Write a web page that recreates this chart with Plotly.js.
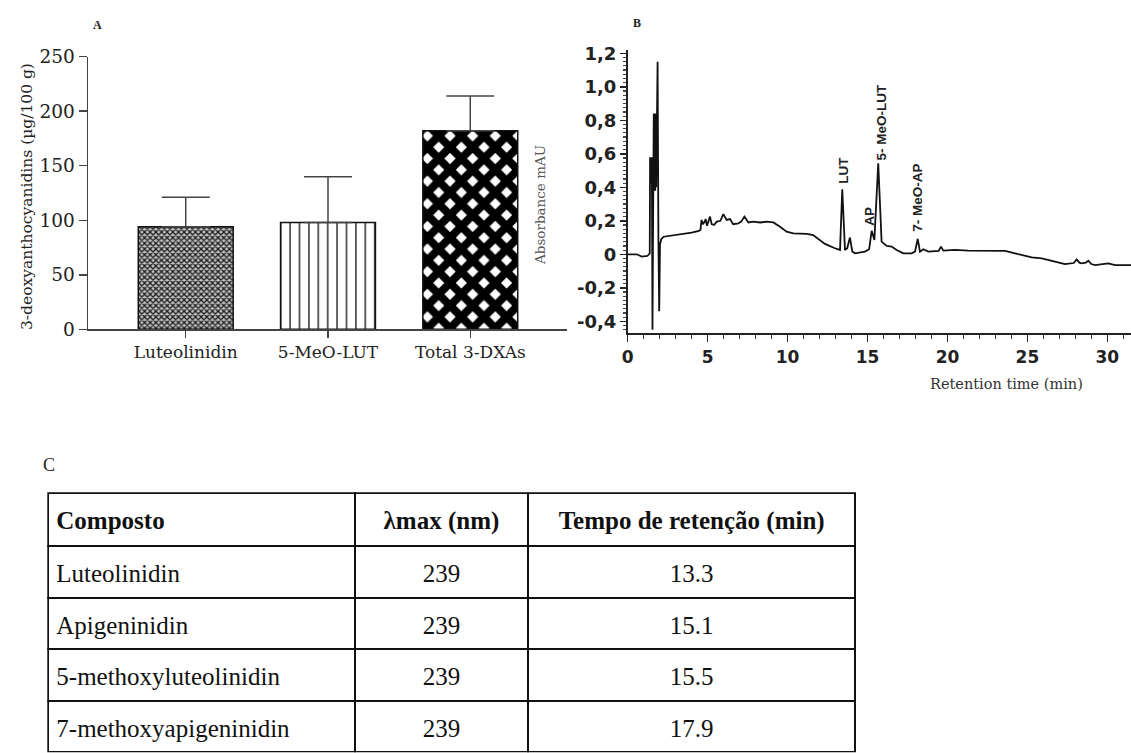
<!DOCTYPE html>
<html>
<head>
<meta charset="utf-8">
<script src="https://cdn.plot.ly/plotly-3.0.1.min.js"></script>
<style>
html, body { margin: 0; padding: 0; background: #fff; overflow: hidden; }
#chart { width: 1131px; height: 753px; }
</style>
</head>
<body>
<div id="chart"></div>
<script>
// ---------- Panel A: 3-deoxyanthocyanidin content ----------
const categories = ['Luteolinidin', '5-MeO-LUT', 'Total 3-DXAs'];
const contentMean = [94, 98, 182];
const contentSD = [27, 42, 32];

// ---------- Panel B: chromatogram ----------
const retentionTime = [0, 0.56, 0.88, 1.23, 1.38, 1.40, 1.42, 1.45, 1.48, 1.51, 1.55, 1.60, 1.63, 1.66, 1.69, 1.72, 1.75, 1.78, 1.82, 1.87, 1.92, 1.97, 2.02, 2.10, 2.25, 2.6, 3.0, 3.5, 4.0, 4.45, 4.55, 4.62, 4.70, 4.78, 4.88, 4.96, 5.04, 5.15, 5.25, 5.4, 5.57, 5.8, 5.98, 6.19, 6.4, 6.6, 6.92, 7.1, 7.3, 7.55, 7.86, 8.28, 8.69, 9.11, 9.53, 9.94, 10.36, 11.2, 11.6, 12.03, 12.34, 12.96, 13.28, 13.42, 13.59, 13.73, 13.9, 14.05, 14.22, 14.84, 15.10, 15.26, 15.43, 15.67, 15.88, 16.2, 16.51, 16.82, 17.24, 17.76, 17.97, 18.14, 18.28, 18.49, 18.8, 19.45, 19.6, 19.74, 20.47, 21.3, 22.14, 23.6, 24.22, 25.27, 25.9, 26.72, 27.35, 27.9, 28.08, 28.25, 28.39, 28.65, 28.81, 29.0, 29.23, 30.06, 30.48, 31.47, 32];
const absorbance = [0, 0, -0.014, -0.01, 0.006, 0.58, 0.42, 0.58, 0.42, 0.58, -0.45, 0.38, 0.84, 0.38, 0.84, 0.38, 0.84, 0.40, 0.84, 1.15, 0.10, -0.34, 0.06, 0.09, 0.105, 0.11, 0.115, 0.12, 0.13, 0.14, 0.145, 0.205, 0.18, 0.19, 0.21, 0.17, 0.2, 0.225, 0.18, 0.175, 0.195, 0.2, 0.24, 0.205, 0.21, 0.18, 0.185, 0.195, 0.225, 0.19, 0.195, 0.19, 0.195, 0.19, 0.165, 0.135, 0.125, 0.122, 0.115, 0.082, 0.062, 0.036, 0.026, 0.388, 0.026, 0.036, 0.1, 0.016, 0.006, 0.016, 0.03, 0.14, 0.085, 0.543, 0.076, 0.05, 0.046, 0.026, 0.006, 0.006, 0.016, 0.092, 0.016, 0.03, 0.016, 0.02, 0.046, 0.022, 0.026, 0.022, 0.022, 0.02, 0.006, -0.018, -0.024, -0.044, -0.058, -0.052, -0.03, -0.05, -0.054, -0.05, -0.038, -0.058, -0.064, -0.054, -0.064, -0.064, -0.064];
const peakLabels = ['LUT', 'AP', '5- MeO-LUT', '7- MeO-AP'];
const peakLabelX = [13.45, 15.15, 15.88, 18.12];
const peakLabelY = [0.503, 0.23, 0.79, 0.34];
const absTickVals = [-0.4, -0.2, 0, 0.2, 0.4, 0.6, 0.8, 1.0, 1.2];
const absTickText = ['-0,4', '-0,2', '0', '0,2', '0,4', '0,6', '0,8', '1,0', '1,2'];

// ---------- Panel C: table ----------
const tableHeader = ['Composto', 'λmax (nm)', 'Tempo de retenção (min)'];
const compounds = ['Luteolinidin', 'Apigeninidin', '5-methoxyluteolinidin', '7-methoxyapigeninidin'];
const lambdaMax = ['239', '239', '239', '239'];
const retentionTimes = ['13.3', '15.1', '15.5', '17.9'];

const W = 1131, H = 753;
const px = v => v / W;
const py = v => 1 - v / H;

const serif = 'DejaVu Serif';
const axisA = {
  showline: true, linecolor: '#444', linewidth: 1.5,
  ticks: 'outside', ticklen: 8, tickwidth: 1.5, tickcolor: '#444',
  tickfont: {family: serif, size: 17, color: '#222'},
  showgrid: false, zeroline: false, fixedrange: true
};

const traces = [
  {
    type: 'bar', x: categories, y: contentMean, width: 0.667,
    xaxis: 'x', yaxis: 'y', showlegend: false, hoverinfo: 'skip',
    error_y: {type: 'data', symmetric: false, array: contentSD, arrayminus: [0, 0, 0],
              color: '#444', thickness: 1.5, width: 24},
    marker: {
      color: 'white', line: {color: '#111', width: 1.5},
      pattern: {
        fillmode: 'replace',
        shape: ['x', '|', 'x'],
        size: [4, 9.4, 16],
        solidity: [0.55, 0.14, 0.76],
        fgcolor: ['#1a1a1a', '#111', '#000'],
        bgcolor: ['#c4c4c4', '#ffffff', '#ffffff']
      }
    }
  },
  {
    type: 'scatter', mode: 'lines', x: retentionTime, y: absorbance,
    xaxis: 'x2', yaxis: 'y2', showlegend: false, hoverinfo: 'skip',
    line: {color: '#111', width: 1.8}
  },
  {
    type: 'table',
    domain: {x: [px(48.3), px(855.7)], y: [0, py(493.3)]},
    columnwidth: [306.7, 173.3, 327.4],
    header: {
      values: tableHeader, align: ['left', 'center', 'center'], height: 53,
      line: {color: '#111', width: 2}, fill: {color: 'white'},
      font: {family: 'Liberation Serif', size: 25, color: '#111', weight: 'bold'}
    },
    cells: {
      values: [compounds, lambdaMax, retentionTimes], align: ['left', 'center', 'center'], height: 51.5,
      line: {color: '#111', width: 2}, fill: {color: 'white'},
      font: {family: 'Liberation Serif', size: 25, color: '#111'}
    }
  }
];

const annotations = [
  {text: 'A', x: px(97), y: py(25), font: {family: 'Liberation Serif', size: 12, color: '#222', weight: 'bold'}},
  {text: 'B', x: px(637), y: py(23), font: {family: 'Liberation Serif', size: 12, color: '#222', weight: 'bold'}},
  {text: 'C', x: px(49.3), y: py(465), font: {family: 'Liberation Serif', size: 18, color: '#222'}},
  {text: '3-deoxyanthocyanidins (µg/100 g)', x: px(27), y: py(197), textangle: -90,
   font: {family: serif, size: 15.5, color: '#222'}},
  {text: 'Absorbance mAU', x: px(540), y: py(205), textangle: -90,
   font: {family: serif, size: 13.5, color: '#555'}},
  {text: 'Retention time (min)', x: px(1006.5), y: py(384),
   font: {family: serif, size: 14.5, color: '#333'}}
].map(a => Object.assign({xref: 'paper', yref: 'paper', showarrow: false, xanchor: 'center', yanchor: 'middle'}, a));

peakLabels.forEach((t, i) => {
  annotations.push({
    text: t, x: peakLabelX[i], y: peakLabelY[i], xref: 'x2', yref: 'y2',
    showarrow: false, textangle: -90, xanchor: 'center', yanchor: 'middle',
    font: {family: 'Liberation Sans', size: 13.5, color: '#222', weight: 'bold'}
  });
});

const layout = {
  width: W, height: H,
  margin: {l: 0, r: 0, t: 0, b: 0, pad: 0},
  paper_bgcolor: 'white', plot_bgcolor: 'rgba(0,0,0,0)',
  showlegend: false,
  font: {family: serif, color: '#333'},
  xaxis: Object.assign({}, axisA, {
    domain: [px(88), px(567)], type: 'category', range: [-0.687, 2.68], anchor: 'y', ticklen: 7
  }),
  yaxis: Object.assign({}, axisA, {
    domain: [py(329.3), py(56.7)], range: [0, 250], tick0: 0, dtick: 50, anchor: 'x',
    tickfont: {family: serif, size: 18.5, color: '#222'}
  }),
  xaxis2: {
    domain: [px(627.7), 1], range: [0, 31.48], anchor: 'y2',
    tickmode: 'linear', tick0: 0, dtick: 5,
    showline: true, linecolor: '#222', linewidth: 1.8,
    ticks: 'outside', ticklen: 7, tickwidth: 1.5, tickcolor: '#222',
    minor: {tickmode: 'linear', tick0: 0, dtick: 1, ticks: 'outside', ticklen: 4, tickwidth: 1.2, tickcolor: '#333'},
    tickfont: {family: 'DejaVu Sans', size: 17, color: '#222', weight: 'bold'},
    showgrid: false, zeroline: false, fixedrange: true
  },
  yaxis2: {
    domain: [py(333.3), py(50)], range: [-0.4716, 1.2197], anchor: 'x2',
    tickmode: 'array', tickvals: absTickVals, ticktext: absTickText,
    showline: true, linecolor: '#222', linewidth: 1.8,
    ticks: 'outside', ticklen: 6, tickwidth: 1.5, tickcolor: '#222',
    minor: {tickmode: 'linear', tick0: 0, dtick: 0.025, ticks: 'outside', ticklen: 3, tickwidth: 1.2, tickcolor: '#444'},
    tickfont: {family: 'DejaVu Sans', size: 18, color: '#222', weight: 'bold'},
    showgrid: false, zeroline: false, fixedrange: true
  },
  annotations: annotations
};

Plotly.newPlot('chart', traces, layout, {displayModeBar: false, staticPlot: true}).then(() => {
  // centre the table text vertically in its rows (Plotly tables have no valign)
  document.querySelectorAll('#chart .cell-text-holder').forEach(h => {
    const t = h.querySelector('.cell-text');
    const anchor = t ? (t.getAttribute('text-anchor') || t.style.textAnchor) : '';
    const dx = anchor === 'start' ? 4 : 0;
    h.setAttribute('transform', (h.getAttribute('transform') || '') + ' translate(' + dx + ',9)');
  });
});
</script>
</body>
</html>
